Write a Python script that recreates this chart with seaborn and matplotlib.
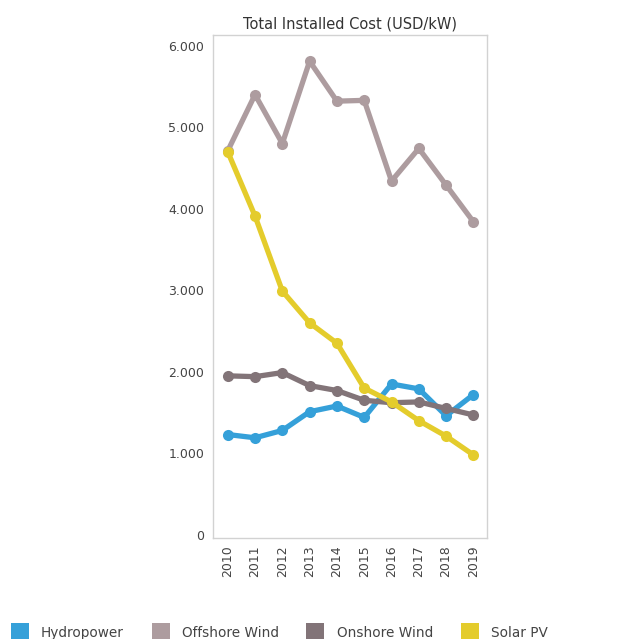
import matplotlib
matplotlib.use("Agg")
import matplotlib.pyplot as plt
from matplotlib.lines import Line2D
from matplotlib.ticker import FuncFormatter
import pandas as pd
import seaborn as sns

years = [2010, 2011, 2012, 2013, 2014, 2015, 2016, 2017, 2018, 2019]
hydropower = [1230, 1190, 1280, 1510, 1580, 1440, 1850, 1790, 1460, 1720]
offshore_wind = [4710, 5400, 4800, 5810, 5320, 5330, 4340, 4740, 4290, 3840]
onshore_wind = [1950, 1940, 1990, 1830, 1770, 1650, 1620, 1630, 1550, 1470]
solar_pv = [4700, 3910, 2990, 2600, 2350, 1800, 1630, 1400, 1210, 980]

series_names = ["Hydropower", "Offshore Wind", "Onshore Wind", "Solar PV"]
colors = ["#35A0D9", "#AD9C9F", "#827478", "#E4CC2C"]

# tabela longa para o seaborn
df = pd.DataFrame({
    "year": years * 4,
    "cost": hydropower + offshore_wind + onshore_wind + solar_pv,
    "tech": sum([[n] * len(years) for n in series_names], []),
})

sns.set_style("white")
plt.rcParams["font.family"] = ["DejaVu Sans"]

fig = plt.figure(figsize=(6.35, 6.39), dpi=100)
ax = fig.add_axes([0.335, 0.158, 0.432, 0.787])

sns.lineplot(data=df, x="year", y="cost", hue="tech", hue_order=series_names,
             palette=colors, marker="o", markersize=8, markeredgewidth=0,
             linewidth=3.8, legend=False, ax=ax)

ax.set_xlim(2009.45, 2019.5)
ax.set_ylim(-40, 6130)
ax.set_xticks(years)
ax.set_xticklabels([str(y) for y in years], rotation=90, fontsize=9, color="#444444")
ax.set_yticks(range(0, 7000, 1000))
ax.yaxis.set_major_formatter(FuncFormatter(lambda v, p: f"{int(v):,}".replace(",", ".")))
ax.tick_params(axis="y", labelsize=9, labelcolor="#444444", length=0, pad=6)
ax.tick_params(axis="x", length=0, pad=5)
ax.set_xlabel("")
ax.set_ylabel("")
ax.set_title("Total Installed Cost (USD/kW)", fontsize=10.5, color="#333333", pad=5)
for s in ax.spines.values():
    s.set_color("#D2D2D2")
    s.set_linewidth(1)

handles = [Line2D([], [], marker="s", linestyle="", markersize=13,
                  markerfacecolor=c, markeredgewidth=0) for c in colors]
fig.legend(handles, series_names, loc="upper left", bbox_to_anchor=(-0.004, 0.04),
           ncol=4, frameon=False, fontsize=9.8, columnspacing=1.95,
           handlelength=1.5, handletextpad=0.8, labelcolor="#444444")

fig.savefig("out.png", dpi=100)
